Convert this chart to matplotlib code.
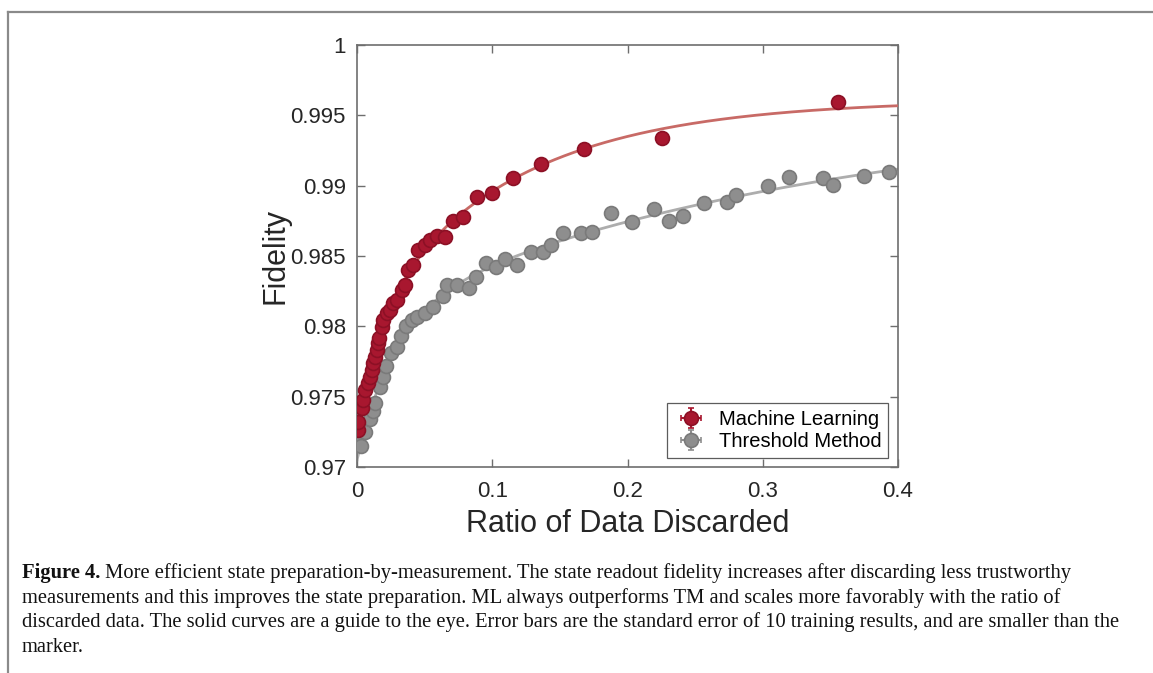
import numpy as np
import matplotlib
matplotlib.use("Agg")
import matplotlib.pyplot as plt
from matplotlib.lines import Line2D

# ---------------- data ----------------
ml_x = [0.001, 0.001, 0.0035, 0.0044, 0.0059, 0.0081, 0.0096, 0.0109, 0.0118, 0.0133,
        0.0146, 0.0155, 0.0163, 0.0183, 0.0192, 0.022, 0.0244, 0.0266, 0.0294, 0.0331,
        0.0355, 0.0377, 0.0414, 0.0451, 0.0503, 0.054, 0.059, 0.0651, 0.071, 0.0784,
        0.0885, 0.0996, 0.1154, 0.1361, 0.1679, 0.2254, 0.356]
ml_y = [0.97263, 0.97322, 0.97419, 0.97476, 0.97547, 0.97597, 0.9764, 0.9769, 0.97739, 0.97782,
        0.97832, 0.97882, 0.97917, 0.97995, 0.98045, 0.98095, 0.98116, 0.98166, 0.98187, 0.98258,
        0.98294, 0.984, 0.98436, 0.98543, 0.98578, 0.98614, 0.98642, 0.98635, 0.98749, 0.9878,
        0.9892, 0.98948, 0.99055, 0.99154, 0.99261, 0.99341, 0.99593]

tm_x = [0.0011, 0.003, 0.0059, 0.0096, 0.0121, 0.0133, 0.017, 0.0192, 0.0214, 0.0251,
        0.0294, 0.0325, 0.0359, 0.0405, 0.0442, 0.0503, 0.0564, 0.0638, 0.0663, 0.0743,
        0.0828, 0.088, 0.0954, 0.1028, 0.1091, 0.1181, 0.1287, 0.1376, 0.1435, 0.1526,
        0.1657, 0.1736, 0.1879, 0.2034, 0.2197, 0.231, 0.2409, 0.2569, 0.2734, 0.2803,
        0.3038, 0.3195, 0.3449, 0.3518, 0.3745, 0.393]
tm_y = [0.97185, 0.97149, 0.97249, 0.97341, 0.97398, 0.97455, 0.97569, 0.9764, 0.97718, 0.9781,
        0.97853, 0.97931, 0.98002, 0.98045, 0.98066, 0.98095, 0.98137, 0.98216, 0.98294, 0.98294,
        0.98273, 0.98351, 0.9845, 0.98422, 0.98482, 0.98436, 0.98531, 0.98531, 0.98578, 0.98661,
        0.98661, 0.98673, 0.98804, 0.9874, 0.98832, 0.98751, 0.98787, 0.98875, 0.98886, 0.98934,
        0.99, 0.9906, 0.99057, 0.99005, 0.99071, 0.99095]

err_x = 0.0008
err_y = 0.00004

x_ticks = [0, 0.1, 0.2, 0.3, 0.4]
x_ticklabels = ["0", "0.1", "0.2", "0.3", "0.4"]
y_ticks = [0.97, 0.975, 0.98, 0.985, 0.99, 0.995, 1.0]
y_ticklabels = ["0.97", "0.975", "0.98", "0.985", "0.99", "0.995", "1"]

labels = ["Machine Learning", "Threshold Method"]

caption_bold = "Figure 4."
caption_lines = [
    " More efficient state preparation-by-measurement. The state readout fidelity increases after discarding less trustworthy",
    "measurements and this improves the state preparation. ML always outperforms TM and scales more favorably with the ratio of",
    "discarded data. The solid curves are a guide to the eye. Error bars are the standard error of 10 training results, and are smaller than the",
    "marker.",
]

# ---------------- guide-to-the-eye fit (two-term exponential) ----------------
def fit_guide(x, y, c2_max):
    x = np.asarray(x); y = np.asarray(y)
    best = None
    for c1 in np.logspace(-3, -1.3, 40):
        for c2 in np.logspace(-1.6, np.log10(c2_max), 40):
            if c2 <= c1:
                continue
            A = np.vstack([np.ones_like(x), -np.exp(-x / c1), -np.exp(-x / c2)]).T
            coef, *_ = np.linalg.lstsq(A, y, rcond=None)
            r = np.sum((A @ coef - y) ** 2)
            if best is None or r < best[0]:
                best = (r, coef, c1, c2)
    _, coef, c1, c2 = best
    return lambda t: coef[0] - coef[1] * np.exp(-t / c1) - coef[2] * np.exp(-t / c2)

ml_fit = fit_guide(ml_x, ml_y, 0.11)
tm_fit = fit_guide(tm_x, tm_y, 2.0)
xx = np.linspace(0, 0.4, 400)

# ---------------- figure ----------------
W, H = 1153, 673
fig = plt.figure(figsize=(W / 100, H / 100), dpi=100)
fig.patch.set_facecolor("white")

ax = fig.add_axes([357 / W, 1 - 467 / H, (898 - 357) / W, (467 - 45) / H])

red = "#A8172F"
red_edge = "#8C1025"
gray = "#8E8E8E"
gray_edge = "#7A7A7A"

ax.plot(xx, tm_fit(xx), color="#ADADAD", lw=2.0, zorder=2)
ax.errorbar(tm_x, tm_y, xerr=err_x, yerr=err_y, fmt="o", color=gray, ecolor=gray,
            markersize=10, markeredgecolor=gray_edge, markeredgewidth=1.2,
            elinewidth=1.5, capsize=2, zorder=3, label=labels[1])
ax.plot(xx, ml_fit(xx), color="#C86A66", lw=2.0, zorder=4)
ax.errorbar(ml_x, ml_y, xerr=err_x, yerr=err_y, fmt="o", color=red, ecolor=red,
            markersize=10, markeredgecolor=red_edge, markeredgewidth=1.2,
            elinewidth=1.5, capsize=2, zorder=5, label=labels[0])

ax.set_xlim(0, 0.4)
ax.set_ylim(0.97, 1.0)
ax.set_xticks(x_ticks)
ax.set_xticklabels(x_ticklabels)
ax.set_yticks(y_ticks)
ax.set_yticklabels(y_ticklabels)

axcol = "#6E6E6E"
txtcol = "#262626"
for s in ax.spines.values():
    s.set_color(axcol)
    s.set_linewidth(1.2)
ax.tick_params(direction="in", top=True, right=True, length=6, width=1.0,
               color=axcol, labelsize=16, labelcolor=txtcol)
ax.tick_params(axis="x", pad=10)
ax.tick_params(axis="y", pad=8)
for lab in ax.get_xticklabels() + ax.get_yticklabels():
    lab.set_fontfamily("Liberation Sans")

ax.set_xlabel("Ratio of Data Discarded", fontsize=22, color=txtcol,
              family="Liberation Sans", labelpad=5)
ax.set_ylabel("Fidelity", fontsize=22, color=txtcol, family="Liberation Sans", labelpad=0)

h, l = ax.get_legend_handles_labels()
leg = ax.legend(h[::-1], l[::-1], loc="lower right", bbox_to_anchor=(0.982, 0.022),
                prop={"family": "Liberation Sans", "size": 14.5}, frameon=True,
                fancybox=False, edgecolor="#333333", handlelength=1.7,
                handletextpad=0.5, borderpad=0.35, labelspacing=0.12,
                borderaxespad=0)
leg.get_frame().set_linewidth(0.9)

# page border
fig.add_artist(Line2D([8 / W, 1.0], [1 - 12 / H, 1 - 12 / H], color="#8A8A8A", lw=1.6))
fig.add_artist(Line2D([8 / W, 8 / W], [1 - 12 / H, 0.0], color="#8A8A8A", lw=1.6))

# caption
cap_font = dict(family="Liberation Serif", size=14.8, color="#111111")
x0 = 22 / W
ys = [573, 598, 622, 647]
tb = fig.text(x0, 1 - ys[0] / H, caption_bold, weight="bold", va="center", ha="left", **cap_font)
fig.canvas.draw()
bb = tb.get_window_extent()
fig.text(bb.x1 / W, 1 - ys[0] / H, caption_lines[0], va="center", ha="left", **cap_font)
for line, y in zip(caption_lines[1:], ys[1:]):
    fig.text(x0, 1 - y / H, line, va="center", ha="left", **cap_font)

fig.savefig("out.png", dpi=100, facecolor="white")
